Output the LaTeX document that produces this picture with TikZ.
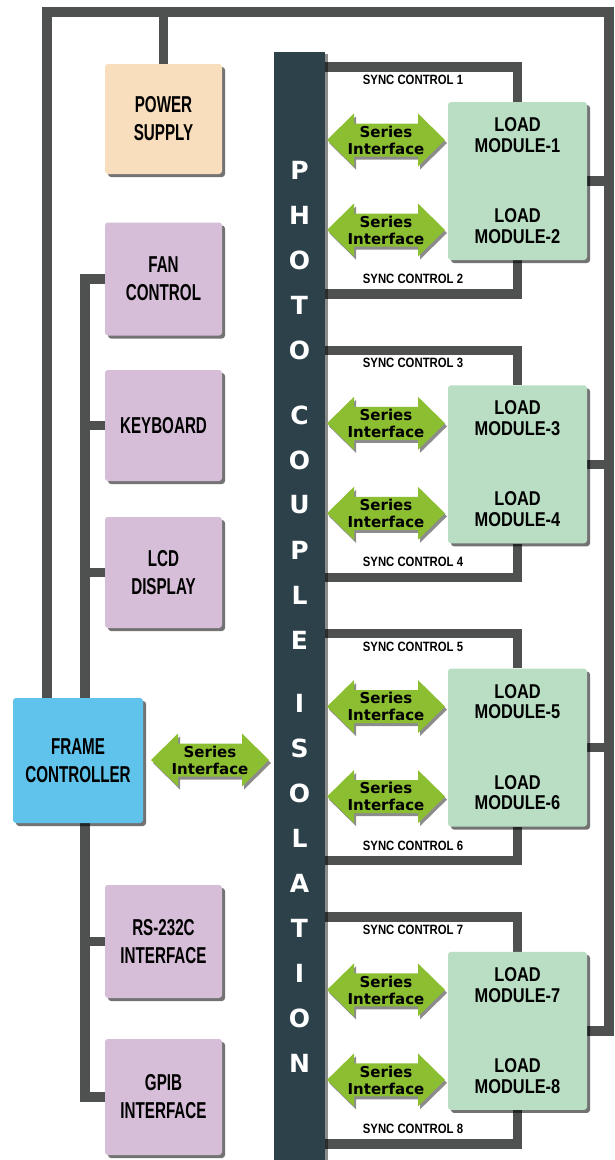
\documentclass[tikz,border=0pt]{standalone}
\usepackage{fontspec}
\setmainfont{Liberation Sans}
\newfontfamily\cfont[FakeStretch=0.66]{Liberation Sans}
\newfontfamily\mfont[FakeStretch=0.82]{Liberation Sans}
\newfontfamily\sfont[FakeStretch=0.84]{Liberation Sans}
\newfontfamily\dfont{DejaVu Sans}
\usetikzlibrary{shadows,calc}
\pgfdeclarelayer{paper}
\pgfdeclarelayer{bg}
\pgfsetlayers{paper,bg,main}
\definecolor{linecol}{HTML}{4F5151}
\definecolor{barcol}{HTML}{2D414B}
\definecolor{pscol}{HTML}{F9DEBE}
\definecolor{pucol}{HTML}{D6BED8}
\definecolor{fccol}{HTML}{5FC3EB}
\definecolor{lmcol}{HTML}{B9DEC3}
\definecolor{arcol}{HTML}{8CBE32}
\newcommand{\seriesarrow}[3]{%
  \path[arrowbody, shift={(#2,#3)}] (-59,0) -- (-32,-26.5) -- (-32,-16.5) -- (32,-16.5) -- (32,-26.5) -- (59,0) -- (32,26.5) -- (32,16.5) -- (-32,16.5) -- (-32,26.5) -- cycle;
  \node[sertext] (#1) at (#2,#3) {Series\\Interface};
}
\begin{document}
\begin{tikzpicture}[x=1pt,y=-1pt,
  wire/.style={draw=linecol, line width=9.5pt},
  blk/.style={rounded corners=3pt, inner sep=0pt, align=center, minimum width=117pt,
    font={\cfont\bfseries\fontsize{23}{28}\selectfont},
    drop shadow={shadow xshift=3pt, shadow yshift=-3pt, fill=black, opacity=0.55}},
  lmbox/.style={rounded corners=3pt, fill=lmcol, minimum width=139pt, minimum height=158pt, inner sep=0pt,
    drop shadow={shadow xshift=3pt, shadow yshift=-3pt, fill=black, opacity=0.55}},
  modtext/.style={align=center, inner sep=0pt, font={\mfont\bfseries\fontsize{20}{20.5}\selectfont}},
  synctext/.style={inner sep=0pt, font={\sfont\bfseries\fontsize{13.5}{14}\selectfont}},
  sertext/.style={align=center, inner sep=0pt, font={\dfont\bfseries\fontsize{15}{17}\selectfont}},
  arrowbody/.style={fill=arcol, drop shadow={shadow xshift=2pt, shadow yshift=-3pt, fill=black, opacity=0.45}},
  barletter/.style={text=white, inner sep=0pt, font={\dfont\bfseries\fontsize{25}{25}\selectfont}}
]
\useasboundingbox (0,0) rectangle (614,1160);
\begin{pgfonlayer}{paper}
\fill[white] (0,0) rectangle (614,1160);
\end{pgfonlayer}

\coordinate (tl) at (47,12);
\coordinate (tr) at (609,12);
\coordinate (bus) at (85,0);

% left column
\node[blk, fill=pscol, minimum height=110pt] (ps) at (163.5,119) {POWER\\SUPPLY};
\node[blk, fill=pucol, minimum height=113pt] (fan) at (163.5,279) {FAN\\CONTROL};
\node[blk, fill=pucol, minimum height=111pt] (kb) at (163.5,425.5) {KEYBOARD};
\node[blk, fill=pucol, minimum height=111pt] (lcd) at (163.5,572.5) {LCD\\DISPLAY};
\node[blk, fill=fccol, minimum width=130pt, minimum height=125pt] (fc) at (78,760.5) {FRAME\\CONTROLLER};
\node[blk, fill=pucol, minimum height=113pt] (rs) at (163.5,941.5) {RS-232C\\INTERFACE};
\node[blk, fill=pucol, minimum height=116pt] (gpib) at (163.5,1097) {GPIB\\INTERFACE};

% photo coupler bar
\node[fill=barcol, minimum width=51pt, minimum height=1110pt, inner sep=0pt,
  drop shadow={shadow xshift=3pt, shadow yshift=-2pt, fill=black, opacity=0.45}] (bar) at (299.5,607) {};
\foreach \L/\y [count=\i] in {P/170,H/215,O/260,T/305,O/350,C/415,O/460,U/505,P/550,L/595,E/640,I/703,S/748,O/793,L/838,A/883,T/928,I/973,O/1018,N/1063}
  \node[barletter] (bl\i) at (299.5,\y) {\L};

% frame controller series interface
\seriesarrow{sif}{210}{760}

% load module groups
\foreach \g/\a/\b in {0/1/2,1/3/4,2/5/6,3/7/8}{
  \pgfmathsetmacro{\o}{\g*283.3}
  \node[lmbox] (lm\a\b) at (517.5,181+\o) {};
  \node[modtext] (lm\a) at (517.5,135+\o) {LOAD\\MODULE-\a};
  \node[modtext] (lm\b) at (517.5,226+\o) {LOAD\\MODULE-\b};
  \coordinate (st\a) at (420,67+\o);
  \coordinate (sb\b) at (420,294+\o);
  \node[synctext] (sl\a) at (413,80+\o) {SYNC CONTROL \a};
  \node[synctext] (sl\b) at (413,279+\o) {SYNC CONTROL \b};
  \seriesarrow{si\a}{386}{140+\o}
  \seriesarrow{si\b}{386}{230+\o}
}

\begin{pgfonlayer}{bg}
  \draw[wire] (lm78.east) -- (lm78.east -| tr) -- (tr) -- (tl) -- (tl |- fc.north);
  \draw[wire] (ps.north) -- (ps.north |- tl);
  \draw[wire] (fan.west) -- (fan.west -| bus) -- (bus |- gpib.west) -- (gpib.west);
  \draw[wire] (kb.west) -- (kb.west -| bus);
  \draw[wire] (lcd.west) -- (lcd.west -| bus);
  \draw[wire] (rs.west) -- (rs.west -| bus);
  \foreach \a/\b in {1/2,3/4,5/6,7/8}{
    \draw[wire] (bar.center |- st\a) -- (st\a -| lm\a\b.north) -- (lm\a\b.north);
    \draw[wire] (lm\a\b.south) -- (lm\a\b.south |- sb\b) -- (bar.center |- sb\b);
    \draw[wire] (lm\a\b.east) -- (lm\a\b.east -| tr);
  }
\end{pgfonlayer}
\end{tikzpicture}
\end{document}
